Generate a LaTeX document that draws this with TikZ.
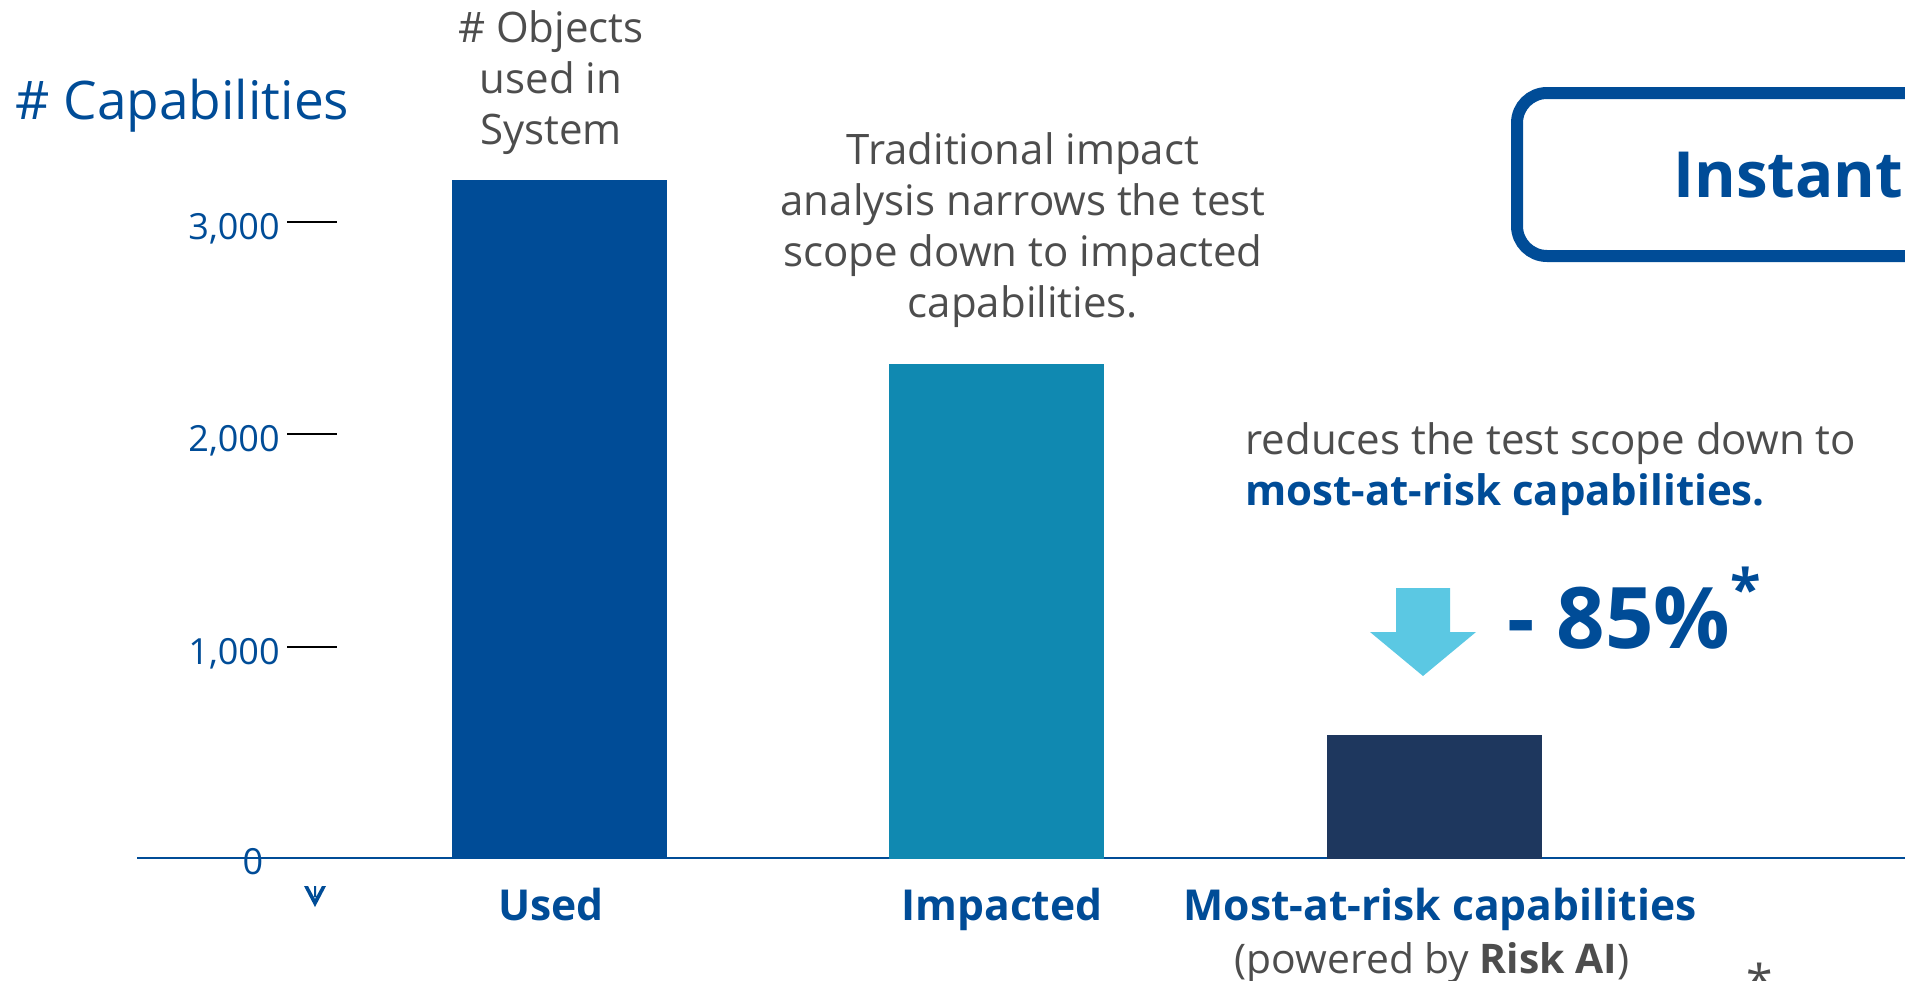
\documentclass[tikz,border=0pt]{standalone}
\usepackage{fontspec}
\setmainfont{Open Sans}
\usetikzlibrary{positioning}
\definecolor{rblue}{HTML}{004C97}
\definecolor{rteal}{HTML}{1089B1}
\definecolor{rnavy}{HTML}{1E375E}
\definecolor{rsky}{HTML}{5BC8E3}
\definecolor{rgray}{HTML}{4D4D4D}

\begin{document}
\begin{tikzpicture}[x=0.5pt,y=-0.5pt,
  txt/.style={inner sep=0pt,anchor=base,text=rgray,align=center,font=\fontsize{21}{25.5}\selectfont},
  tick/.style={inner sep=0pt,anchor=base east,text=rblue,font=\fontsize{18}{20}\selectfont},
  barlbl/.style={inner sep=0pt,anchor=base,text=rblue,align=center,font=\fontsize{21.3}{26}\selectfont\bfseries},
  bar/.style={inner sep=0pt,anchor=south west,minimum width=107.5pt}]
  \useasboundingbox (0,0) rectangle (1905,980);
  \clip (0,0) rectangle (1905,980);

  \node[anchor=base west,inner sep=0pt,text=rblue,font=\fontsize{26.6}{30}\selectfont] (C) at (15,119) {\# Capabilities};
  \node[txt] (O) at (551,144) {\# Objects\\used in\\System};
  \node[txt] (T) at (1023,317) {Traditional impact\\analysis narrows the test\\scope down to impacted\\capabilities.};

  \draw[rblue,line width=1pt] (137,858) -- (1905,858);
  \foreach \v/\y in {3/222,2/434,1/647}{
    \draw[line width=1.2pt] (287,\y) -- (337,\y);
    \node[tick] (N\v) at (280,\y+17) {\v,000};
  }
  \node[tick,anchor=base] (Z) at (253,874) {0};
  \fill[rblue] (304,886) -- (315,907) -- (326,886) -- (322,886) -- (315,899) -- (308,886) -- cycle
    (314,886) rectangle (316,897);

  \node[bar,fill=rblue,minimum height=339.5pt] (B1) at (452,859) {};
  \node[bar,fill=rteal,minimum height=247.5pt] (B2) at (889,859) {};
  \node[bar,fill=rnavy,minimum height=62pt] (B3) at (1327,859) {};

  \node[barlbl] (L1) at (551,920) {Used};
  \node[barlbl] (L2) at (1002,920) {Impacted};
  \node[barlbl] (L3) at (1440,920) {Most-at-risk capabilities};
  \node[txt,font=\fontsize{20.4}{26}\selectfont] (P) at (1432,973) {(powered by \textbf{Risk AI})};

  \draw[rblue,line width=6pt,rounded corners=15pt] (2000,93) -- (1517,93) -- (1517,256) -- (2000,256);
  \node[anchor=base west,inner sep=0pt,text=rblue,font=\fontsize{31.8}{36}\selectfont\bfseries] (I) at (1673,197) {Instant};

  \node[txt,anchor=base west,align=left] (R) at (1245,505) {reduces the test scope down to\\\textcolor{rblue}{\bfseries most-at-risk capabilities.}};
  \fill[rsky] (1396,588) -- (1450,588) -- (1450,632) -- (1476,632) -- (1423,676) -- (1370,632) -- (1396,632) -- cycle;
  \node[anchor=base west,inner sep=0pt,text=rblue,font=\fontsize{42.5}{46}\selectfont\bfseries] (K) at (1507,648) {- 85\%\raisebox{0.45em}{\fontsize{28}{30}\selectfont *}};
  \node[txt,font=\fontsize{24}{26}\selectfont] (F) at (1760,999) {*};
\end{tikzpicture}
\end{document}
